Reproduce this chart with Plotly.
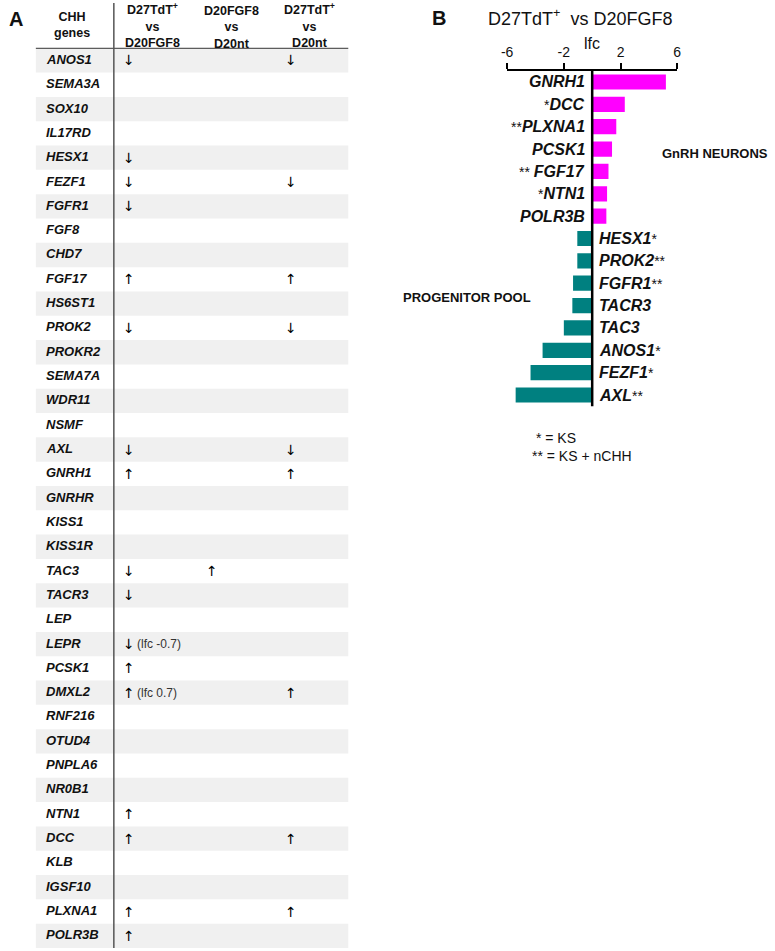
import plotly.graph_objects as go

# ---------------- Panel A data ----------------
chh_genes = ["ANOS1", "SEMA3A", "SOX10", "IL17RD", "HESX1", "FEZF1", "FGFR1", "FGF8",
             "CHD7", "FGF17", "HS6ST1", "PROK2", "PROKR2", "SEMA7A", "WDR11", "NSMF",
             "AXL", "GNRH1", "GNRHR", "KISS1", "KISS1R", "TAC3", "TACR3", "LEP", "LEPR",
             "PCSK1", "DMXL2", "RNF216", "OTUD4", "PNPLA6", "NR0B1", "NTN1", "DCC", "KLB",
             "IGSF10", "PLXNA1", "POLR3B"]
header_first = ["CHH", "genes"]
comparison_headers = [["D27TdT<sup>+</sup>", "vs", "D20FGF8"],
                      ["D20FGF8", "vs", "D20nt"],
                      ["D27TdT<sup>+</sup>", "vs", "D20nt"]]
d27_vs_d20fgf8 = {"ANOS1": "down", "HESX1": "down", "FEZF1": "down", "FGFR1": "down",
                  "FGF17": "up", "PROK2": "down", "AXL": "down", "GNRH1": "up",
                  "TAC3": "down", "TACR3": "down", "LEPR": "down", "PCSK1": "up",
                  "DMXL2": "up", "NTN1": "up", "DCC": "up", "PLXNA1": "up", "POLR3B": "up"}
d20fgf8_vs_d20nt = {"TAC3": "up"}
d27_vs_d20nt = {"ANOS1": "down", "FEZF1": "down", "FGF17": "up", "PROK2": "down",
                "AXL": "down", "GNRH1": "up", "DMXL2": "up", "DCC": "up", "PLXNA1": "up"}
lfc_notes = {"LEPR": "(lfc -0.7)", "DMXL2": "(lfc 0.7)"}

# ---------------- Panel B data ----------------
b_genes = ["GNRH1", "DCC", "PLXNA1", "PCSK1", "FGF17", "NTN1", "POLR3B",
           "HESX1", "PROK2", "FGFR1", "TACR3", "TAC3", "ANOS1", "FEZF1", "AXL"]
b_lfc = [5.2, 2.3, 1.7, 1.4, 1.15, 1.05, 1.0,
         -1.05, -1.05, -1.35, -1.4, -2.0, -3.5, -4.35, -5.4]
b_marks = ["", "*", "**", "", "** ", "*", "",
           "*", "**", "**", "", "", "*", "*", "**"]
b_ticks = [-6, -2, 2, 6]
legend_lines = ["\u00a0* = KS", "** = KS + nCHH"]

# ---------------- layout helpers ----------------
W, H = 775, 951
FONT = "Arial, 'Liberation Sans', sans-serif"
ARROW_FONT = "'DejaVu Sans', sans-serif"
TXT = "#111111"
MAGENTA = "#FF00FF"
TEAL = "#008080"
ARROW = {"up": "\u2191\ufe0e", "down": "\u2193\ufe0e"}


def py(p):  # pixel from top -> paper y
    return 1 - p / H


def px(p):  # pixel from left -> paper x
    return p / W


n_rows = len(chh_genes)
row_px = 24.32
header_px = 48.3
top_val = -0.5 - header_px / row_px


def row_of(p):  # pixel -> panel A row coordinate
    return -0.5 - (header_px - p) / row_px


fig = go.Figure()

# Panel B bars
fig.add_trace(go.Bar(
    x=b_lfc, y=list(range(len(b_genes))), orientation="h",
    marker=dict(color=[MAGENTA if v > 0 else TEAL for v in b_lfc], line=dict(width=0)),
    width=0.68, xaxis="x", yaxis="y", hoverinfo="skip", showlegend=False))

shapes = []
annotations = []

# ---- Panel A table ----
for i in range(0, n_rows, 2):
    shapes.append(dict(type="rect", xref="x2", yref="y2", x0=-0.5, x1=3.5,
                       y0=i - 0.5, y1=i + 0.5, fillcolor="#F0F0F0",
                       line=dict(width=0), layer="below"))
shapes.append(dict(type="line", xref="x2", yref="y2", x0=-0.5, x1=3.5, y0=-0.5, y1=-0.5,
                   line=dict(color="#333333", width=1)))
shapes.append(dict(type="line", xref="x2", yref="y2", x0=0.5, x1=0.5,
                   y0=row_of(3), y1=n_rows - 0.5,
                   line=dict(color="#555555", width=1.5)))

# headers
annotations.append(dict(xref="x2", yref="y2", x=-0.04, y=row_of(25),
                        text="<br>".join(f"<b>{t}</b>" for t in header_first),
                        showarrow=False, xanchor="center", yanchor="middle", align="center",
                        font=dict(family=FONT, size=12.5, color=TXT)))
for k, lines in enumerate(comparison_headers):
    has_sup = any("<sup>" in t for t in lines)
    annotations.append(dict(xref="x2", yref="y2", x=k + 1.0, y=row_of(25 if has_sup else 27),
                            text="<br>".join(f"<b>{t}</b>" for t in lines),
                            showarrow=False, xanchor="center", yanchor="middle",
                            align="center", font=dict(family=FONT, size=12.5, color=TXT)))

# gene names
for i, g in enumerate(chh_genes):
    annotations.append(dict(xref="x2", yref="y2", x=-0.39, y=i, text=f"<b><i>{g}</i></b>",
                            showarrow=False, xanchor="left", yanchor="middle", yshift=1,
                            font=dict(family=FONT, size=13, color=TXT)))

# arrows
arrow_x = [0.7, 1.76, 2.76]
for k, col in enumerate([d27_vs_d20fgf8, d20fgf8_vs_d20nt, d27_vs_d20nt]):
    for g, d in col.items():
        i = chh_genes.index(g)
        annotations.append(dict(xref="x2", yref="y2", x=arrow_x[k], y=i, text=ARROW[d],
                                showarrow=False, xanchor="center", yanchor="middle",
                                font=dict(family=ARROW_FONT, size=14, color="#000000")))
for g, note in lfc_notes.items():
    i = chh_genes.index(g)
    annotations.append(dict(xref="x2", yref="y2", x=0.765, y=i, text=note, showarrow=False,
                            xanchor="left", yanchor="middle",
                            font=dict(family=FONT, size=12, color="#333333")))

annotations.append(dict(xref="paper", yref="paper", x=px(10), y=py(19), text="<b>A</b>",
                        showarrow=False, xanchor="center", yanchor="middle",
                        font=dict(family=FONT, size=20, color=TXT)))

# ---- Panel B ----
shapes.append(dict(type="line", xref="x", yref="y", x0=0, x1=0, y0=-0.5, y1=14.55,
                   line=dict(color="black", width=2.5)))
for i, (g, v, m) in enumerate(zip(b_genes, b_lfc, b_marks)):
    mark = f"<span style='font-size:14px;font-weight:normal'>{m}</span>" if m else ""
    if v > 0:
        text = f"{mark}<b><i>{g}</i></b>"
        annotations.append(dict(xref="x", yref="y", x=0, y=i, text=text, showarrow=False,
                                xanchor="right", yanchor="middle", xshift=-5,
                                font=dict(family=FONT, size=16, color=TXT)))
    else:
        text = f"<b><i>{g}</i></b>{mark}"
        annotations.append(dict(xref="x", yref="y", x=0, y=i, text=text, showarrow=False,
                                xanchor="left", yanchor="middle", xshift=5,
                                font=dict(family=FONT, size=16, color=TXT)))

annotations += [
    dict(xref="paper", yref="paper", x=px(439), y=py(18), text="<b>B</b>", showarrow=False,
         xanchor="center", yanchor="middle", font=dict(family=FONT, size=20, color=TXT)),
    dict(xref="paper", yref="paper", x=px(582), y=py(18),
         text="D27TdT<sup>+</sup>  vs D20FGF8", showarrow=False,
         xanchor="center", yanchor="middle", font=dict(family=FONT, size=18, color=TXT)),
    dict(xref="x", yref="paper", x=0, y=py(43), text="lfc", showarrow=False,
         xanchor="center", yanchor="middle", font=dict(family=FONT, size=16, color=TXT)),
    dict(xref="paper", yref="paper", x=px(663), y=py(153), text="<b>GnRH NEURONS</b>",
         showarrow=False, xanchor="left", yanchor="middle",
         font=dict(family=FONT, size=13, color=TXT)),
    dict(xref="paper", yref="paper", x=px(400), y=py(297), text="<b>PROGENITOR POOL</b>",
         showarrow=False, xanchor="left", yanchor="middle",
         font=dict(family=FONT, size=13, color=TXT)),
    dict(xref="paper", yref="paper", x=px(531), y=py(447.5), text="<br>".join(legend_lines),
         showarrow=False, xanchor="left", yanchor="middle", align="left",
         font=dict(family=FONT, size=14, color=TXT)),
]

fig.update_layout(
    width=W, height=H, margin=dict(l=0, r=0, t=0, b=0),
    paper_bgcolor="white", plot_bgcolor="rgba(0,0,0,0)",
    font=dict(family=FONT, color=TXT),
    showlegend=False,
    xaxis=dict(domain=[px(507.7), px(680)], range=[-6, 6], side="top", anchor="y",
               tickvals=b_ticks, ticktext=[str(t) for t in b_ticks],
               ticks="outside", ticklen=6, tickwidth=2, tickcolor="black",
               showline=True, linecolor="black", linewidth=2, showgrid=False,
               zeroline=False, tickfont=dict(size=14, color=TXT),
               fixedrange=True),
    yaxis=dict(domain=[py(406.2), py(70.8)], range=[14.5, -0.5], visible=False,
               anchor="x", fixedrange=True),
    xaxis2=dict(domain=[px(30), px(347)], range=[-0.5, 3.5], visible=False, anchor="y2"),
    yaxis2=dict(domain=[py(948), 1], range=[n_rows - 0.5, top_val], visible=False,
                anchor="x2"),
    shapes=shapes, annotations=annotations,
)

fig.write_html(
    "out.html",
    config={"displayModeBar": False},
    post_script="document.body.style.margin='0';document.body.style.overflow='hidden';",
)
